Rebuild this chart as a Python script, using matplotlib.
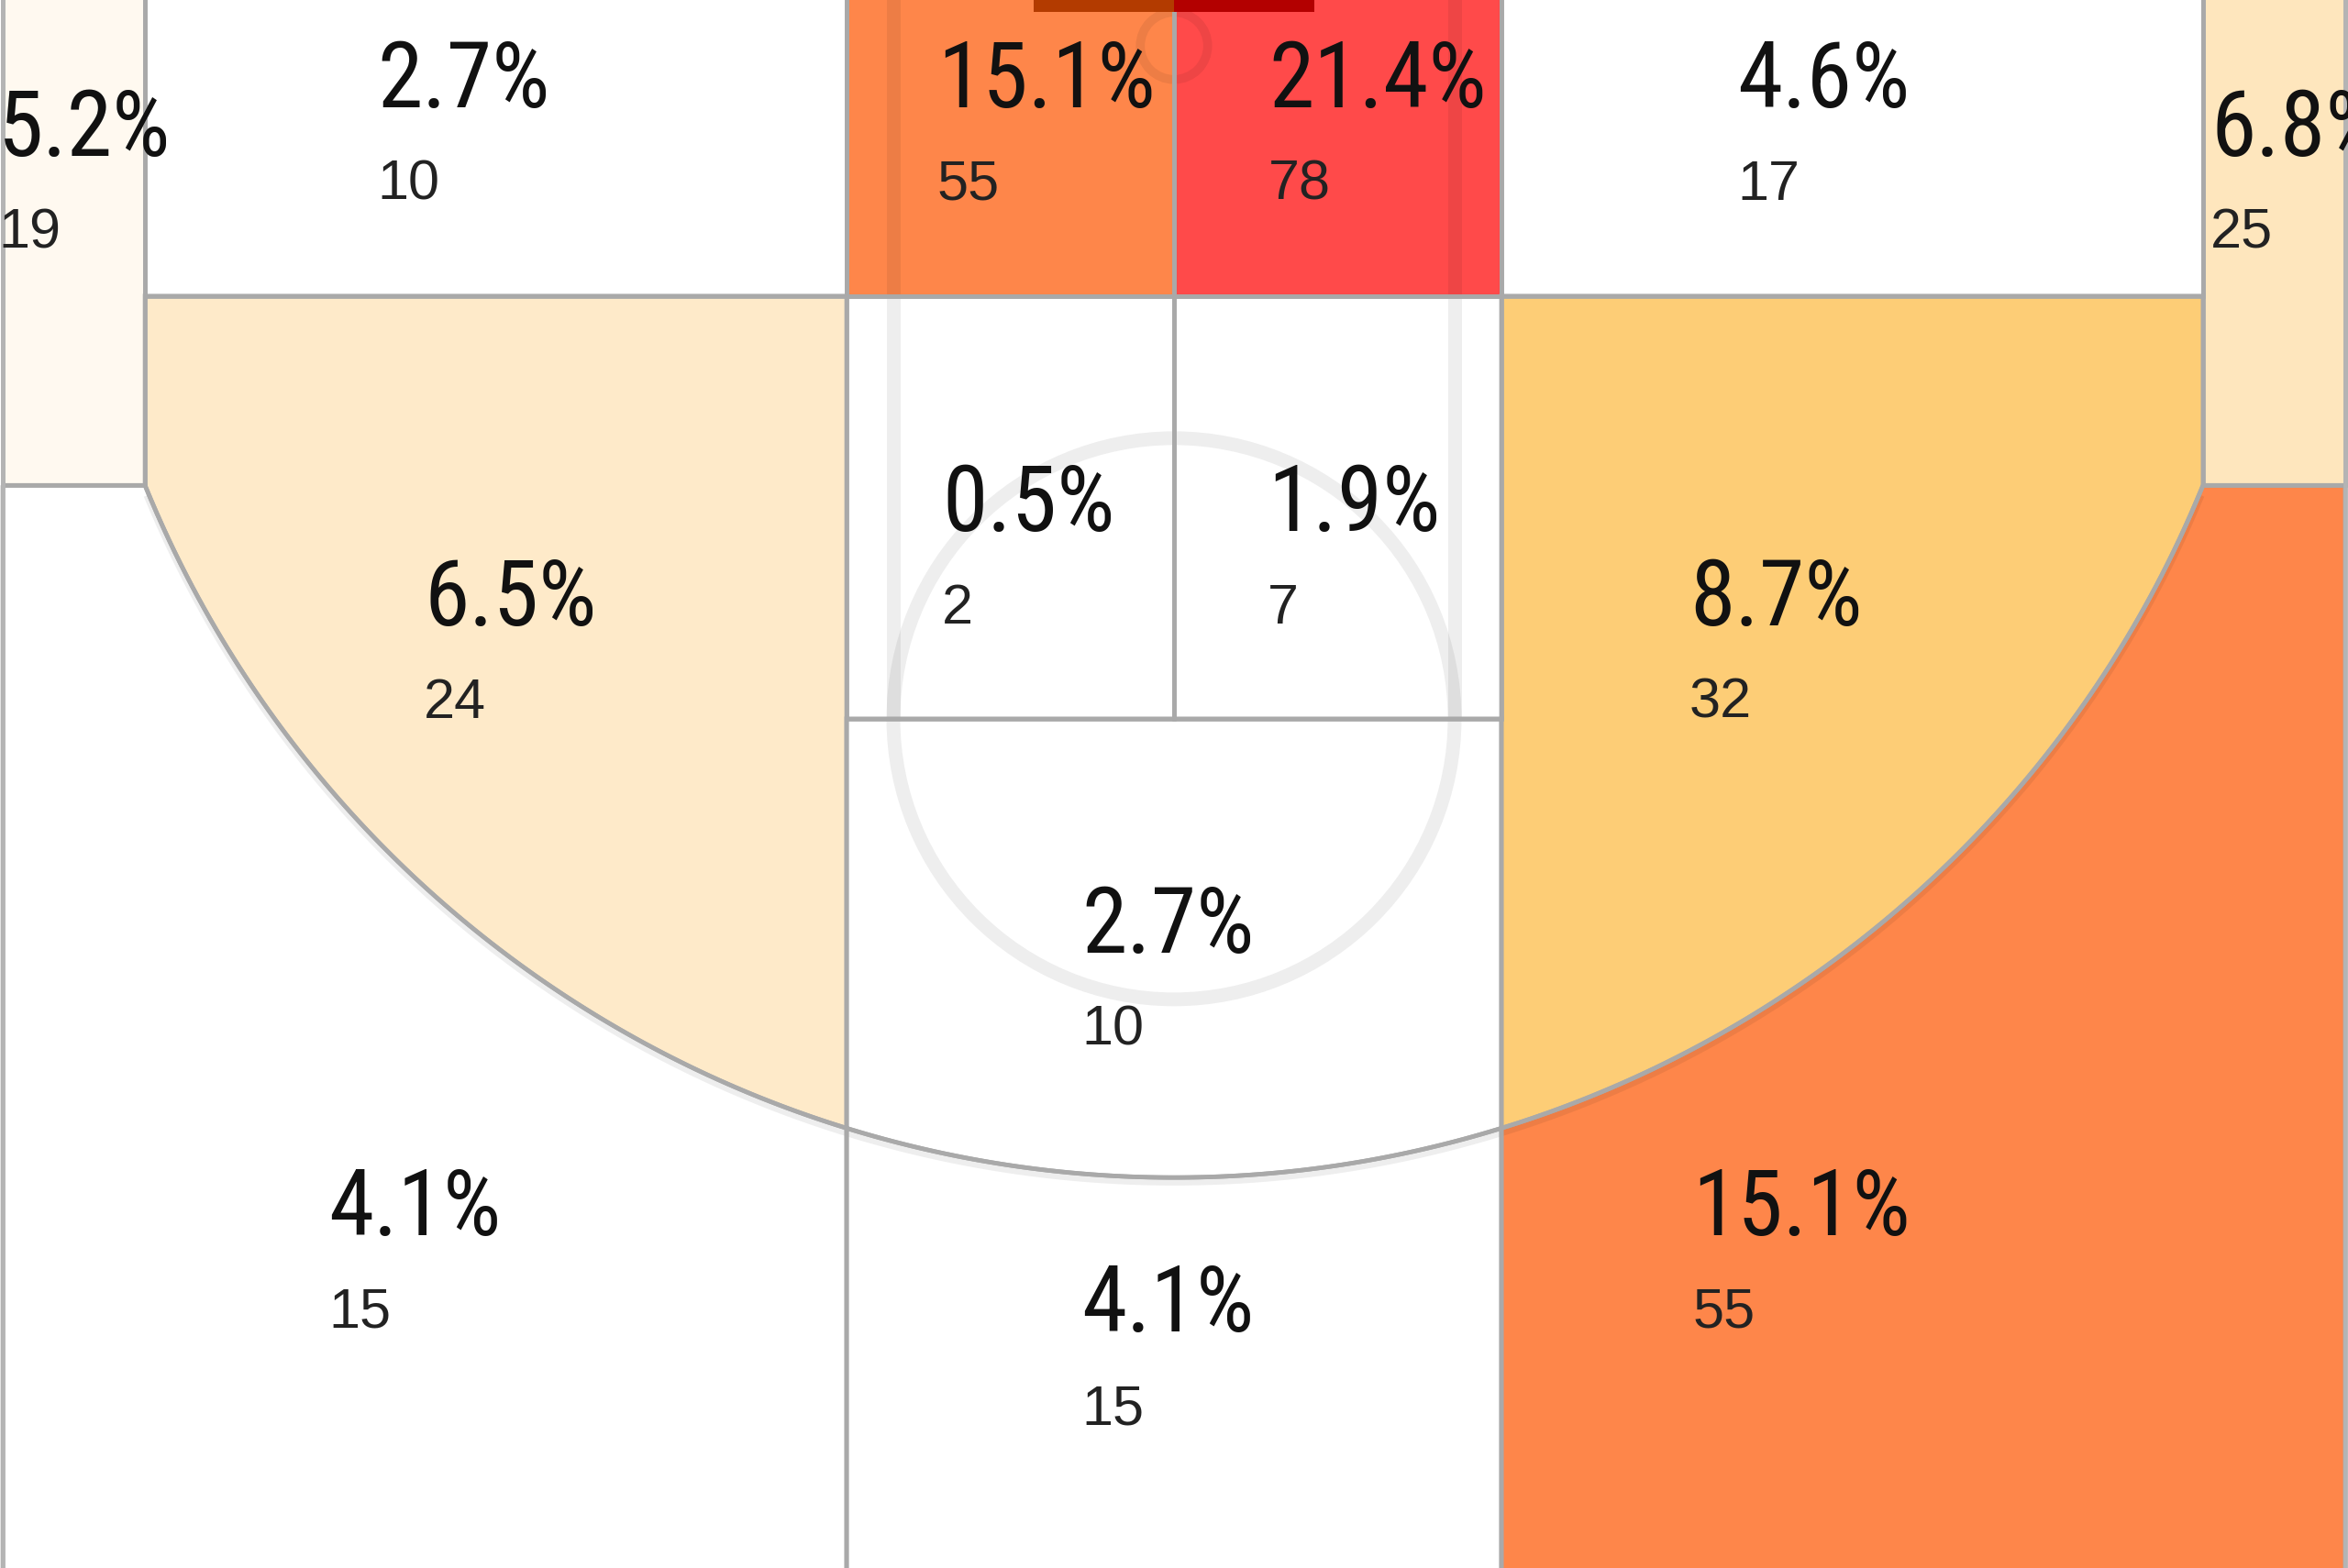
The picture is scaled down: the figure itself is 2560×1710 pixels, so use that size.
import colorsys
import numpy as np
import matplotlib
matplotlib.use("Agg")
import matplotlib.pyplot as plt
from matplotlib import font_manager
from matplotlib.colors import LinearSegmentedColormap, Normalize, to_rgb
from matplotlib.patches import Polygon, Rectangle, Circle


# === Data: share of shots (%) and attempts per court zone ===
zones = ["Left corner 3", "Left baseline 2", "Restricted left", "Restricted right",
         "Right baseline 2", "Right corner 3", "Left wing 2", "Paint left",
         "Paint right", "Right wing 2", "Top of key 2", "Left wing 3",
         "Top 3", "Right wing 3"]
shot_pct = [5.2, 2.7, 15.1, 21.4, 4.6, 6.8, 6.5, 0.5, 1.9, 8.7, 2.7, 4.1, 4.1, 15.1]
shot_cnt = [19, 10, 55, 78, 17, 25, 24, 2, 7, 32, 10, 15, 15, 55]

# label anchor (left edge, baseline of the % text), in feet from the hoop
label_x = [-25.14, -17.04, -5.06, 2.02, 12.04, 22.16, -16.04, -4.96, 2.0, 11.02,
           -1.98, -18.08, -1.98, 11.08]
label_y = [2.35, 1.31, 1.31, 1.31, 1.31, 2.35, 12.39, 10.37, 10.37, 12.39,
           19.39, 25.43, 27.5, 25.43]

# === Court geometry (feet, hoop at origin, y grows away from baseline) ===
TOP = -6.0
FAR = 40.0
SIDE_X = 25.04
CORNER_X = 22.0
LANE_X = 7.0
KEY_TOP = 5.35
FT_Y = 14.39
ARC_CY = 0.45
ARC_R = 23.75
PAINT_X = 6.0          # faint painted lane
FT_R = 6.0

# colour scale: white at low shares, going to red
cmap_vals = [0.0, 4.7, 6.5, 8.7, 15.1, 21.4]
cmap_cols = ["#ffffff", "#ffffff", "#feeac8", "#fdcd76", "#fe864a", "#ff4a4a"]
norm = Normalize(0, cmap_vals[-1])
cmap = LinearSegmentedColormap.from_list(
    "share", [(v / cmap_vals[-1], c) for v, c in zip(cmap_vals, cmap_cols)])

EDGE = "#a9a9a9"

# === Fonts ===
names = {f.name for f in font_manager.fontManager.ttflist}
pct_family, pct_size = "DejaVu Sans", 57
for fam, size in [("Liberation Sans Narrow", 80), ("Roboto Condensed", 72),
                  ("DejaVu Sans Condensed", 63)]:
    if fam in names:
        pct_family, pct_size = fam, size
        break
cnt_family = "Liberation Sans" if "Liberation Sans" in names else "DejaVu Sans"
cnt_size = 44 if cnt_family == "Liberation Sans" else 40


def arc_pts(x0, x1, n=120):
    xs = np.linspace(x0, x1, n)
    return np.column_stack([xs, ARC_CY + np.sqrt(ARC_R ** 2 - xs ** 2)])


def rect(x0, y0, x1, y1):
    return np.array([[x0, y0], [x1, y0], [x1, y1], [x0, y1]])


yc = ARC_CY + np.sqrt(ARC_R ** 2 - CORNER_X ** 2)

shapes = [
    rect(-SIDE_X, TOP, -CORNER_X, yc),
    rect(-CORNER_X, TOP, -LANE_X, KEY_TOP),
    rect(-LANE_X, TOP, 0, KEY_TOP),
    rect(0, TOP, LANE_X, KEY_TOP),
    rect(LANE_X, TOP, CORNER_X, KEY_TOP),
    rect(CORNER_X, TOP, SIDE_X, yc),
    np.vstack([[[-CORNER_X, KEY_TOP], [-LANE_X, KEY_TOP]], arc_pts(-LANE_X, -CORNER_X)]),
    rect(-LANE_X, KEY_TOP, 0, FT_Y),
    rect(0, KEY_TOP, LANE_X, FT_Y),
    np.vstack([[[LANE_X, KEY_TOP], [CORNER_X, KEY_TOP]], arc_pts(CORNER_X, LANE_X)]),
    np.vstack([[[-LANE_X, FT_Y], [LANE_X, FT_Y]], arc_pts(LANE_X, -LANE_X)]),
    np.vstack([[[-SIDE_X, yc], [-CORNER_X, yc]], arc_pts(-CORNER_X, -LANE_X),
               [[-LANE_X, FAR], [-SIDE_X, FAR]]]),
    np.vstack([arc_pts(-LANE_X, LANE_X), [[LANE_X, FAR], [-LANE_X, FAR]]]),
    np.vstack([arc_pts(LANE_X, CORNER_X), [[CORNER_X, yc], [SIDE_X, yc],
               [SIDE_X, FAR], [LANE_X, FAR]]]),
]

# === Figure ===
fig = plt.figure(figsize=(25.6, 17.1), dpi=100)
ax = fig.add_axes([0, 0, 1, 1])
ax.set_xlim(-25.1, 25.1)
ax.set_ylim(32.55, -0.98)
ax.axis("off")

colors = [cmap(norm(p)) for p in shot_pct]
patches = []
for pts, col in zip(shapes, colors):
    p = Polygon(pts, closed=True, facecolor=col, edgecolor="none", zorder=1)
    ax.add_patch(p)
    patches.append(p)

# faint court markings
faint = dict(color="k", alpha=0.065, solid_capstyle="butt")
for sx in (-PAINT_X, PAINT_X):
    ax.plot([sx, sx], [TOP, FT_Y], lw=10.8, zorder=2, **faint)
ax.add_patch(Circle((0, FT_Y), FT_R, fill=False, lw=10.8, edgecolor="k",
                    alpha=0.065, zorder=2))
ax.add_patch(Circle((0, 0), 0.72, fill=False, lw=7, edgecolor="k",
                    alpha=0.065, zorder=2))
outer = arc_pts(-CORNER_X + 0.05, CORNER_X - 0.05, 300)
outer[:, 1] += 0.09
ax.plot(outer[:, 0], outer[:, 1], lw=6, zorder=2, **faint)

# zone borders
for pts in shapes:
    ax.add_patch(Polygon(pts, closed=True, facecolor="none", edgecolor=EDGE,
                         lw=3.4, zorder=3))
for sx in (-SIDE_X, SIDE_X):
    ax.plot([sx, sx], [TOP, FAR], color="#b4b4b4", lw=3.4, zorder=3)

# backboard, a dark tint of the zone below it
for x0, idx in ((-3.0, 2), (0.0, 3)):
    h, s, v = colorsys.rgb_to_hsv(*to_rgb(colors[idx]))
    dark = colorsys.hsv_to_rgb(h, 1.0, 0.7)
    ax.add_patch(Rectangle((x0, -1.25), 3.0, 0.52, facecolor=dark,
                           edgecolor="none", zorder=4))

# labels
for i, (pct, cnt) in enumerate(zip(shot_pct, shot_cnt)):
    x, y = label_x[i], label_y[i]
    t = ax.text(x, y, f"{pct:.1f}%", family=pct_family, fontsize=pct_size,
                color="#111111", ha="left", va="baseline", zorder=6)
    if i == 0:
        # text spilling out of the narrow corner zone is drawn faded
        t.set_clip_path(patches[0])
        ax.text(x, y, f"{pct:.1f}%", family=pct_family, fontsize=pct_size,
                color="#c9c9c9", ha="left", va="baseline", zorder=5)
    ax.text(x, y + 1.98, f"{cnt}", family=cnt_family, fontsize=cnt_size,
            color="#222222", ha="left", va="baseline", zorder=6)

fig.savefig("out.png", dpi=100)
